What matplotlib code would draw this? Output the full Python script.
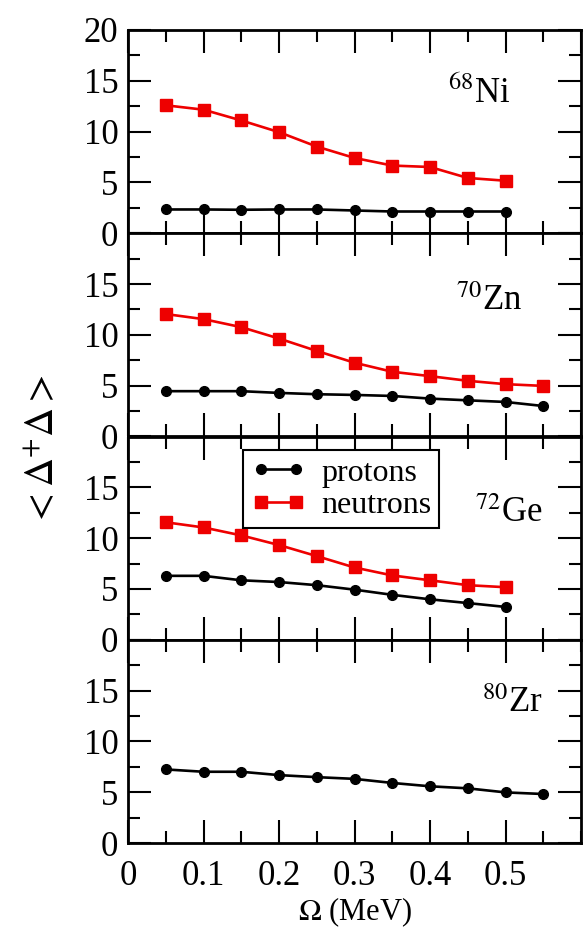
import numpy as np
import matplotlib
matplotlib.use("Agg")
import matplotlib.pyplot as plt
from matplotlib.ticker import MultipleLocator

plt.rcParams["font.family"] = ["Liberation Serif", "DejaVu Serif"]
plt.rcParams["mathtext.fontset"] = "stix"

# Oscillator frequency (MeV)
omega_10 = [0.05, 0.10, 0.15, 0.20, 0.25, 0.30, 0.35, 0.40, 0.45, 0.50]
omega_11 = [0.05, 0.10, 0.15, 0.20, 0.25, 0.30, 0.35, 0.40, 0.45, 0.50, 0.55]

# Pairing gap expectation values <Delta^+ Delta>
ni68_protons = [2.34, 2.34, 2.31, 2.34, 2.34, 2.24, 2.14, 2.14, 2.14, 2.14]
ni68_neutrons = [12.59, 12.16, 11.10, 9.95, 8.53, 7.41, 6.66, 6.52, 5.44, 5.17]

zn70_protons = [4.46, 4.46, 4.46, 4.29, 4.16, 4.09, 3.99, 3.73, 3.56, 3.40, 3.00]
zn70_neutrons = [12.05, 11.55, 10.76, 9.64, 8.42, 7.26, 6.37, 5.94, 5.48, 5.15, 4.98]

ge72_protons = [6.29, 6.29, 5.85, 5.68, 5.37, 4.93, 4.42, 3.98, 3.61, 3.23]
ge72_neutrons = [11.56, 11.05, 10.27, 9.32, 8.23, 7.11, 6.33, 5.85, 5.37, 5.17]

zr80_protons = [7.24, 7.01, 7.01, 6.68, 6.48, 6.31, 5.91, 5.58, 5.38, 4.98, 4.82]

nucleus_labels = [r"$^{68}$Ni", r"$^{70}$Zn", r"$^{72}$Ge", r"$^{80}$Zr"]
label_pos = [(0.507, 12.8), (0.522, 12.4), (0.550, 11.6), (0.550, 12.9)]

x_ticks = [0, 0.1, 0.2, 0.3, 0.4, 0.5]
x_tick_labels = ["0", "0.1", "0.2", "0.3", "0.4", "0.5"]

panels = [
    (omega_10, ni68_protons, omega_10, ni68_neutrons),
    (omega_11, zn70_protons, omega_11, zn70_neutrons),
    (omega_10, ge72_protons, omega_10, ge72_neutrons),
    (omega_11, zr80_protons, None, None),
]

W, H = 583, 930
fig = plt.figure(figsize=(W / 100, H / 100), dpi=100)

left_px, right_px = 128, 581
top_px, bottom_px = 30, 843
ph = (bottom_px - top_px) / 4

red = "#ee0000"
axes = []
for i, (xp, yp, xn, yn) in enumerate(panels):
    t = top_px + i * ph
    ax = fig.add_axes([left_px / W, 1 - (t + ph) / H,
                       (right_px - left_px) / W, ph / H])
    axes.append(ax)
    ax.plot(xp, yp, color="black", lw=1.9, marker="o", ms=7,
            mfc="black", mec="black", label="protons", zorder=3)
    if xn is not None:
        ax.plot(xn, yn, color=red, lw=1.9, marker="s", ms=8,
                mfc=red, mec=red, label="neutrons", zorder=3)
    ax.set_xlim(0, 0.6)
    ax.set_ylim(0, 20)
    ax.xaxis.set_major_locator(MultipleLocator(0.1))
    ax.xaxis.set_minor_locator(MultipleLocator(0.05))
    ax.set_yticks([0, 5, 10, 15, 20])
    ax.yaxis.set_minor_locator(MultipleLocator(2.5))
    if i == 0:
        ax.set_yticklabels(["0", "5", "10", "15", "20"])
    else:
        ax.set_yticklabels(["0", "5", "10", "15", ""])
    if i == 3:
        ax.set_xticks(x_ticks)
        ax.set_xticklabels(x_tick_labels)
    else:
        ax.set_xticklabels([])
    ax.tick_params(which="both", direction="in", top=True, right=True,
                   width=1.5, labelsize=25, colors="black")
    ax.tick_params(which="major", length=16.5)
    ax.tick_params(which="minor", length=8.5)
    ax.tick_params(axis="y", pad=7)
    ax.tick_params(axis="x", pad=12)
    for s in ax.spines.values():
        s.set_linewidth(2.0)
    lx, ly = label_pos[i]
    ax.text(lx, ly, nucleus_labels[i], ha="right", va="baseline",
            fontsize=25)

leg = axes[2].legend(loc="upper left", bbox_to_anchor=(0.254, 0.932),
                     borderaxespad=0, fontsize=23, numpoints=2,
                     handlelength=1.7, handletextpad=0.5,
                     labelspacing=0.1, borderpad=0.25, fancybox=False,
                     framealpha=1, edgecolor="black")
leg.get_frame().set_linewidth(1.5)

fig.text(355 / W, 1 - 912 / H, r"$\Omega$ (MeV)", ha="center", va="center",
         fontsize=22)
fig.text(45 / W, 1 - 450 / H, r"${<}\Delta^{+}\Delta{>}$", rotation=90,
         ha="center", va="center", fontsize=29)

fig.savefig("out.png", dpi=100)
